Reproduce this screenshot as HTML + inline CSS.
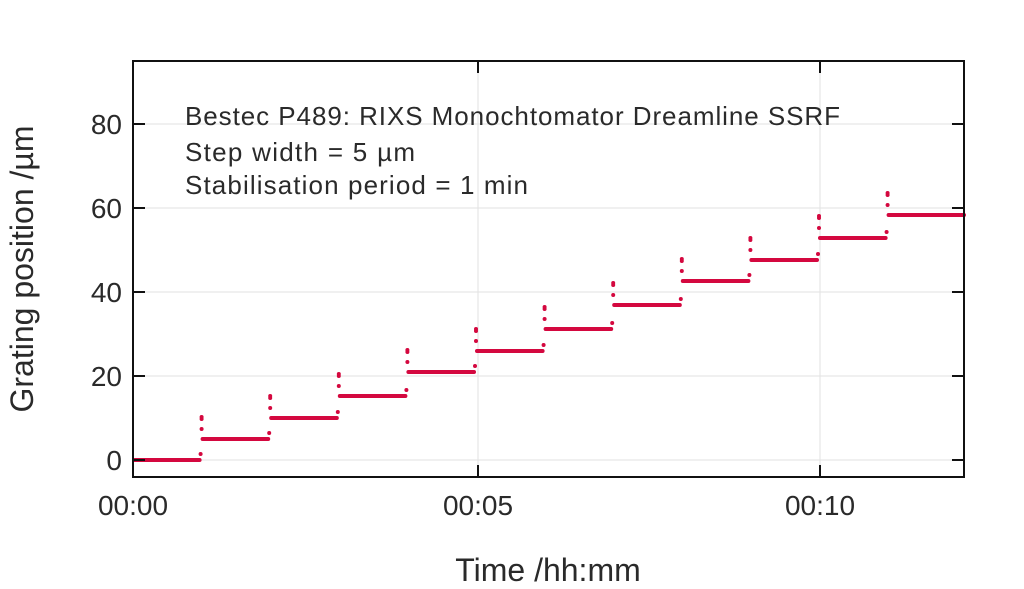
<!DOCTYPE html>
<html><head><meta charset="utf-8"><style>
html,body{margin:0;padding:0;background:#fff;width:1024px;height:589px;overflow:hidden}
svg text{font-family:"Liberation Sans",sans-serif;fill:#2a2a2a}
</style></head><body>
<svg id="s" width="1024" height="589" xmlns="http://www.w3.org/2000/svg">
<g stroke="#e2e2e2" stroke-width="1">
<line x1="133" y1="460" x2="964" y2="460"/><line x1="133" y1="376" x2="964" y2="376"/>
<line x1="133" y1="292" x2="964" y2="292"/><line x1="133" y1="208" x2="964" y2="208"/>
<line x1="133" y1="124" x2="964" y2="124"/>
<line x1="478" y1="61" x2="478" y2="477"/><line x1="820" y1="61" x2="820" y2="477"/>
</g>
<g id="d" fill="#d4083f" stroke="#d4083f"></g>
<rect x="133" y="61" width="831" height="416" fill="none" stroke="#111" stroke-width="2"/>
<g stroke="#111" stroke-width="2">
<line x1="133" y1="460" x2="145" y2="460"/><line x1="133" y1="376" x2="145" y2="376"/>
<line x1="133" y1="292" x2="145" y2="292"/><line x1="133" y1="208" x2="145" y2="208"/>
<line x1="133" y1="124" x2="145" y2="124"/>
<line x1="964" y1="460" x2="952" y2="460"/><line x1="964" y1="376" x2="952" y2="376"/>
<line x1="964" y1="292" x2="952" y2="292"/><line x1="964" y1="208" x2="952" y2="208"/>
<line x1="964" y1="124" x2="952" y2="124"/>
<line x1="478" y1="477" x2="478" y2="465"/><line x1="820" y1="477" x2="820" y2="465"/>
<line x1="478" y1="61" x2="478" y2="73"/><line x1="820" y1="61" x2="820" y2="73"/>
</g>
<g font-size="28" text-anchor="end">
<text x="122" y="470">0</text><text x="122" y="386">20</text><text x="122" y="302">40</text>
<text x="122" y="218">60</text><text x="122" y="134">80</text>
</g>
<g font-size="28" text-anchor="middle">
<text x="133" y="515">00:00</text><text x="478" y="515">00:05</text><text x="820" y="515">00:10</text>
</g>
<text x="548" y="581" font-size="32" text-anchor="middle">Time /hh:mm</text>
<text transform="translate(33,269) rotate(-90)" font-size="32" text-anchor="middle">Grating position /µm</text>
<g font-size="26">
<text x="185" y="125" textLength="655">Bestec P489: RIXS Monochtomator Dreamline SSRF</text>
<text x="185" y="161" textLength="230">Step width = 5 µm</text>
<text x="185" y="194" textLength="343">Stabilisation period = 1 min</text>
</g>
</svg>
<script>
var L=[460,439,418,396,372,351,329,305,281,260,238,215];
var g=document.getElementById('d'),h='';
for(var i=0;i<12;i++){
 var x0=133+68.6*i,x1=(i==11?964:133+68.6*(i+1)-2);
 h+='<line x1="'+(x0+1)+'" y1="'+L[i]+'" x2="'+x1+'" y2="'+L[i]+'" stroke-width="4" stroke-linecap="round"/>';
 if(i>0){
  var y=L[i];
  h+='<circle cx="'+(x0-1)+'" cy="'+(L[i-1]-6)+'" r="2" stroke="none"/>';
  h+='<circle cx="'+x0+'" cy="'+(y-10)+'" r="2" stroke="none"/>';
  h+='<circle cx="'+x0+'" cy="'+(y-20)+'" r="2" stroke="none"/>';
  h+='<circle cx="'+x0+'" cy="'+(y-22)+'" r="2" stroke="none"/>';
 }
}
g.innerHTML=h;
</script>
</body></html>
